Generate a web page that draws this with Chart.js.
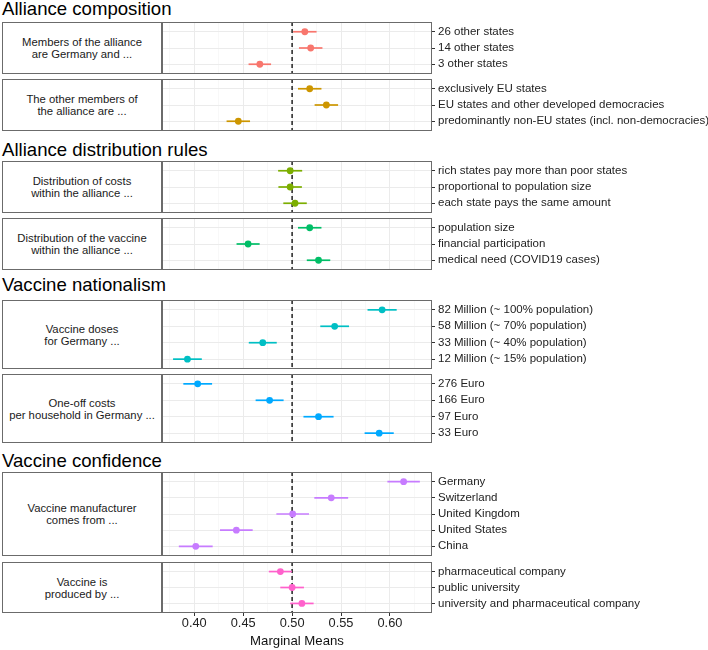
<!DOCTYPE html>
<html>
<head>
<meta charset="utf-8">
<title>Marginal Means</title>
<script src="https://cdn.jsdelivr.net/npm/chart.js@4.4.1/dist/chart.umd.min.js"></script>
<style>
  body { margin: 0; background: #fff; }
  #figura { position: relative; width: 708px; height: 650px; overflow: hidden; background: #fff;
            font-family: "Liberation Sans", Arial, sans-serif; }
  .titulo { position: absolute; left: 2px; font-size: 18.6px; line-height: 18.6px; color: #000; white-space: nowrap; }
  .faixa { position: absolute; left: 2px; width: 160px; box-sizing: border-box; border: 1px solid #6b6b6b;
           display: flex; align-items: center; justify-content: center; text-align: center;
           font-size: 11.3px; line-height: 12px; color: #1a1a1a; white-space: pre-line; }
  canvas { position: absolute; left: 161px; }
</style>
</head>
<body>
<div id="figura"></div>
<script>
// --- Dados ---
const titulosGrupos = ["Alliance composition", "Alliance distribution rules", "Vaccine nationalism", "Vaccine confidence"];

const membrosNiveis = ["26 other states", "14 other states", "3 other states"];
const membrosMedias = [0.513, 0.519, 0.467];
const membrosErros = [0.012, 0.012, 0.0115];

const parceirosNiveis = ["exclusively EU states", "EU states and other developed democracies", "predominantly non-EU states (incl. non-democracies)"];
const parceirosMedias = [0.518, 0.535, 0.445];
const parceirosErros = [0.012, 0.012, 0.012];

const custosNiveis = ["rich states pay more than poor states", "proportional to population size", "each state pays the same amount"];
const custosMedias = [0.498, 0.498, 0.503];
const custosErros = [0.0123, 0.012, 0.012];

const vacinaNiveis = ["population size", "financial participation", "medical need (COVID19 cases)"];
const vacinaMedias = [0.518, 0.455, 0.527];
const vacinaErros = [0.012, 0.0118, 0.012];

const dosesNiveis = ["82 Million (~ 100% population)", "58 Million (~ 70% population)", "33 Million (~ 40% population)", "12 Million (~ 15% population)"];
const dosesMedias = [0.592, 0.5435, 0.470, 0.393];
const dosesErros = [0.0149, 0.0147, 0.0143, 0.0147];

const euroNiveis = ["276 Euro", "166 Euro", "97 Euro", "33 Euro"];
const euroMedias = [0.4035, 0.477, 0.527, 0.589];
const euroErros = [0.0147, 0.0143, 0.0154, 0.0149];

const origemNiveis = ["Germany", "Switzerland", "United Kingdom", "United States", "China"];
const origemMedias = [0.614, 0.540, 0.5006, 0.443, 0.4015];
const origemErros = [0.0166, 0.0173, 0.0167, 0.0167, 0.0173];

const produtorNiveis = ["pharmaceutical company", "public university", "university and pharmaceutical company"];
const produtorMedias = [0.488, 0.500, 0.510];
const produtorErros = [0.0118, 0.0121, 0.012];

const xTicksPrincipais = [0.40, 0.45, 0.50, 0.55, 0.60];
const xTicksSecundarios = [0.375, 0.425, 0.475, 0.525, 0.575, 0.625];
const xMin = 0.367, xMax = 0.643;
const linhaReferencia = 0.5;
const tituloEixo = "Marginal Means";

// painéis: atributo, dados, cor, linhas da borda (topo, base)
const paineis = [
  { atributo: "Members of the alliance\nare Germany and ...", niveis: membrosNiveis, medias: membrosMedias, erros: membrosErros, cor: "#F8766D", topo: 22, base: 73 },
  { atributo: "The other members of\nthe alliance are ...", niveis: parceirosNiveis, medias: parceirosMedias, erros: parceirosErros, cor: "#CD9600", topo: 79, base: 130 },
  { atributo: "Distribution of costs\nwithin the alliance ...", niveis: custosNiveis, medias: custosMedias, erros: custosErros, cor: "#7CAE00", topo: 161, base: 212 },
  { atributo: "Distribution of the vaccine\nwithin the alliance ...", niveis: vacinaNiveis, medias: vacinaMedias, erros: vacinaErros, cor: "#00BE67", topo: 218, base: 269 },
  { atributo: "Vaccine doses\nfor Germany ...", niveis: dosesNiveis, medias: dosesMedias, erros: dosesErros, cor: "#00BFC4", topo: 300, base: 368 },
  { atributo: "One-off costs\nper household in Germany ...", niveis: euroNiveis, medias: euroMedias, erros: euroErros, cor: "#00A9FF", topo: 374, base: 442 },
  { atributo: "Vaccine manufacturer\ncomes from ...", niveis: origemNiveis, medias: origemMedias, erros: origemErros, cor: "#C77CFF", topo: 472, base: 555 },
  { atributo: "Vaccine is\nproduced by ...", niveis: produtorNiveis, medias: produtorMedias, erros: produtorErros, cor: "#FF61CC", topo: 562, base: 612 }
];
const linhaBaseTitulos = [16, 156.5, 291.5, 467.5];

Chart.defaults.font.family = '"Liberation Sans", Arial, sans-serif';

// --- Plugin: linha tracejada, barras de erro e moldura ---
const marcasPlugin = {
  id: "marcas",
  beforeDatasetsDraw(chart) {
    const { ctx, chartArea: a, scales: { x, y } } = chart;
    ctx.save();
    ctx.beginPath();
    ctx.rect(a.left, a.top, a.right - a.left, a.bottom - a.top);
    ctx.clip();

    const px = x.getPixelForValue(linhaReferencia);
    ctx.strokeStyle = "#222";
    ctx.lineWidth = 1.5;
    ctx.setLineDash([4, 3]);
    ctx.beginPath();
    ctx.moveTo(px, a.top);
    ctx.lineTo(px, a.bottom);
    ctx.stroke();
    ctx.setLineDash([]);

    const ds = chart.data.datasets[0];
    ctx.strokeStyle = ds.borderColor;
    ctx.lineWidth = 1.7;
    ds.data.forEach((p, i) => {
      const py = y.getPixelForValue(p.y);
      ctx.beginPath();
      ctx.moveTo(x.getPixelForValue(p.x - ds.erros[i]), py);
      ctx.lineTo(x.getPixelForValue(p.x + ds.erros[i]), py);
      ctx.stroke();
    });
    ctx.restore();
  },
  afterDraw(chart) {
    const { ctx, chartArea: a } = chart;
    ctx.save();
    ctx.strokeStyle = "#6b6b6b";
    ctx.lineWidth = 1;
    ctx.strokeRect(a.left + 0.5, a.top + 0.5, a.right - a.left - 1, a.bottom - a.top - 1);
    ctx.restore();
  }
};

function ehPrincipal(v) {
  return xTicksPrincipais.some(t => Math.abs(t - v) < 1e-6);
}

function semPadding(s) {
  s.paddingTop = 0;
  s.paddingBottom = 0;
  s.paddingLeft = 0;
  s.paddingRight = 0;
}

function criarPainel(p, ultimo) {
  const fig = document.getElementById("figura");

  const faixa = document.createElement("div");
  faixa.className = "faixa";
  faixa.style.top = p.topo + "px";
  faixa.style.height = (p.base - p.topo + 1) + "px";
  faixa.textContent = p.atributo;
  fig.appendChild(faixa);

  const alturaEixo = 649 - p.base;
  const canvas = document.createElement("canvas");
  const largura = 547;
  const altura = ultimo ? 650 - (p.topo - 1) : p.base - p.topo + 3;
  canvas.width = largura;
  canvas.height = altura;
  canvas.style.width = largura + "px";
  canvas.style.height = altura + "px";
  canvas.style.top = (p.topo - 1) + "px";
  fig.appendChild(canvas);

  const n = p.niveis.length;
  new Chart(canvas, {
    type: "scatter",
    data: {
      datasets: [{
        data: p.medias.map((m, i) => ({ x: m, y: i })),
        erros: p.erros,
        backgroundColor: p.cor,
        borderColor: p.cor,
        borderWidth: 0,
        pointRadius: 3.4,
        pointHoverRadius: 3.4
      }]
    },
    options: {
      responsive: false,
      devicePixelRatio: 1,
      animation: false,
      events: [],
      layout: { autoPadding: false, padding: { left: 1, top: 1, bottom: ultimo ? 0 : 1, right: 0 } },
      plugins: { legend: { display: false }, tooltip: { enabled: false } },
      scales: {
        x: {
          type: "linear",
          min: xMin,
          max: xMax,
          afterBuildTicks: s => { s.ticks = xTicksSecundarios.concat(xTicksPrincipais).sort((a, b) => a - b).map(v => ({ value: v })); },
          afterFit: s => { s.height = ultimo ? alturaEixo : 0; semPadding(s); },
          border: { display: false },
          grid: {
            color: c => ehPrincipal(c.tick.value) ? "#EBEBEB" : "#F4F4F4",
            lineWidth: c => ehPrincipal(c.tick.value) ? 1 : 0.6,
            drawTicks: ultimo,
            tickLength: 3,
            tickColor: c => ehPrincipal(c.tick.value) ? "#333" : "rgba(0,0,0,0)"
          },
          ticks: {
            display: ultimo,
            padding: 0,
            color: "#222",
            font: { size: 12.8 },
            maxRotation: 0,
            autoSkip: false,
            callback: v => ehPrincipal(v) ? v.toFixed(2) : ""
          },
          title: {
            display: ultimo,
            text: tituloEixo,
            color: "#111",
            font: { size: 13.2 },
            padding: { top: 0, bottom: 0.5 }
          }
        },
        y: {
          type: "linear",
          position: "right",
          reverse: true,
          min: -0.6,
          max: n - 1 + 0.6,
          afterBuildTicks: s => { s.ticks = p.niveis.map((_, i) => ({ value: i })); },
          afterFit: s => { s.width = 276; semPadding(s); },
          border: { display: false },
          grid: { color: "#EBEBEB", lineWidth: 1, drawTicks: true, tickLength: 3, tickColor: "#333" },
          ticks: {
            padding: 3,
            color: "#222",
            font: { size: 11.5 },
            autoSkip: false,
            callback: v => p.niveis[v]
          }
        }
      }
    },
    plugins: [marcasPlugin]
  });
}

// --- Inicialização ---
window.onload = function () {
  const fig = document.getElementById("figura");
  titulosGrupos.forEach((t, i) => {
    const el = document.createElement("div");
    el.className = "titulo";
    el.style.top = (linhaBaseTitulos[i] - 15.7) + "px";
    el.textContent = t;
    fig.appendChild(el);
  });
  paineis.forEach((p, i) => criarPainel(p, i === paineis.length - 1));
};
</script>
</body>
</html>
